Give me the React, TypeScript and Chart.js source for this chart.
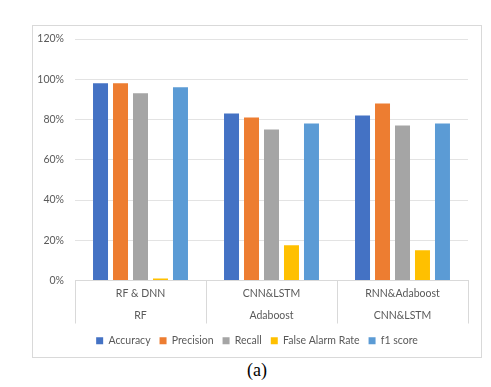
import React, { useEffect, useRef } from "react";
import { Chart, registerables } from "chart.js";

Chart.register(...registerables);

const categories: string[][] = [
  ["RF & DNN", "RF"],
  ["CNN&LSTM", "Adaboost"],
  ["RNN&Adaboost", "CNN&LSTM"],
];
const accuracy = [98, 83, 82];
const precision = [98, 81, 88];
const recall = [93, 75, 77];
const falseAlarmRate = [1, 17.5, 15];
const f1Score = [96, 78, 78];
const yTicks = [0, 20, 40, 60, 80, 100, 120];

const FONT = "Lato, 'Open Sans', sans-serif";
const TEXT = "#595959";
const FS = 10.5;

export default function App() {
  const ref = useRef<HTMLCanvasElement | null>(null);
  useEffect(() => {
    if (!ref.current) return;
    const mk = (label: string, data: number[], color: string) => ({
      label,
      data,
      backgroundColor: color,
      borderWidth: 0,
      categoryPercentage: 0.763,
      barPercentage: 0.75,
    });
    const chart = new Chart(ref.current, {
      type: "bar",
      data: {
        labels: categories,
        datasets: [
          mk("Accuracy", accuracy, "#4472C4"),
          mk("Precision", precision, "#ED7D31"),
          mk("Recall", recall, "#A5A5A5"),
          mk("False Alarm Rate", falseAlarmRate, "#FFC000"),
          mk("f1 score", f1Score, "#5B9BD5"),
        ],
      },
      options: {
        responsive: false,
        animation: false,
        layout: { padding: { top: 13, right: 0, left: 0, bottom: 1 } },
        plugins: {
          tooltip: { enabled: false },
          legend: {
            position: "bottom",
            labels: {
              boxWidth: 7,
              boxHeight: 7,
              color: TEXT,
              padding: 9,
              font: { family: FONT, size: FS },
            },
          },
        },
        scales: {
          x: {
            grid: {
              offset: true,
              drawOnChartArea: false,
              drawTicks: true,
              tickLength: 43,
              color: "#d9d9d9",
            },
            border: { color: "#d9d9d9" },
            ticks: {
              color: TEXT,
              padding: -41,
              maxRotation: 0,
              font: { family: FONT, size: FS, lineHeight: 22 / FS },
            },
            afterFit: (s: any) => {
              s.height = 46;
            },
          },
          y: {
            min: 0,
            max: 120,
            afterBuildTicks: (s: any) => {
              s.ticks = yTicks.map((v) => ({ value: v }));
            },
            grid: {
              color: "#e3e3e3",
              drawTicks: true,
              tickLength: 11,
              tickColor: "rgba(0,0,0,0)",
            },
            border: { display: false },
            ticks: {
              color: TEXT,
              padding: 0,
              font: { family: FONT, size: FS },
              callback: (v: any) => v + "%",
            },
            afterFit: (s: any) => {
              s.width = 42;
            },
          },
          y2: {
            type: "linear",
            position: "right",
            grid: { display: false, drawTicks: false },
            border: { display: false },
            ticks: { display: false },
            afterFit: (s: any) => {
              s.width = 13;
            },
          },
        },
      },
    } as any);
    return () => chart.destroy();
  }, []);
  return (
    <div>
      <div
        style={{
          position: "absolute",
          left: 32,
          top: 25,
          width: 450,
          height: 333,
          boxSizing: "border-box",
          border: "1px solid #d9d9d9",
        }}
      >
        <canvas ref={ref} width={448} height={331} style={{ display: "block" }} />
      </div>
      <div
        style={{
          position: "absolute",
          left: 32,
          top: 360,
          width: 450,
          textAlign: "center",
          fontFamily: "'Liberation Serif', 'Times New Roman', serif",
          fontSize: 18,
          color: "#000",
        }}
      >
        (a)
      </div>
    </div>
  );
}
